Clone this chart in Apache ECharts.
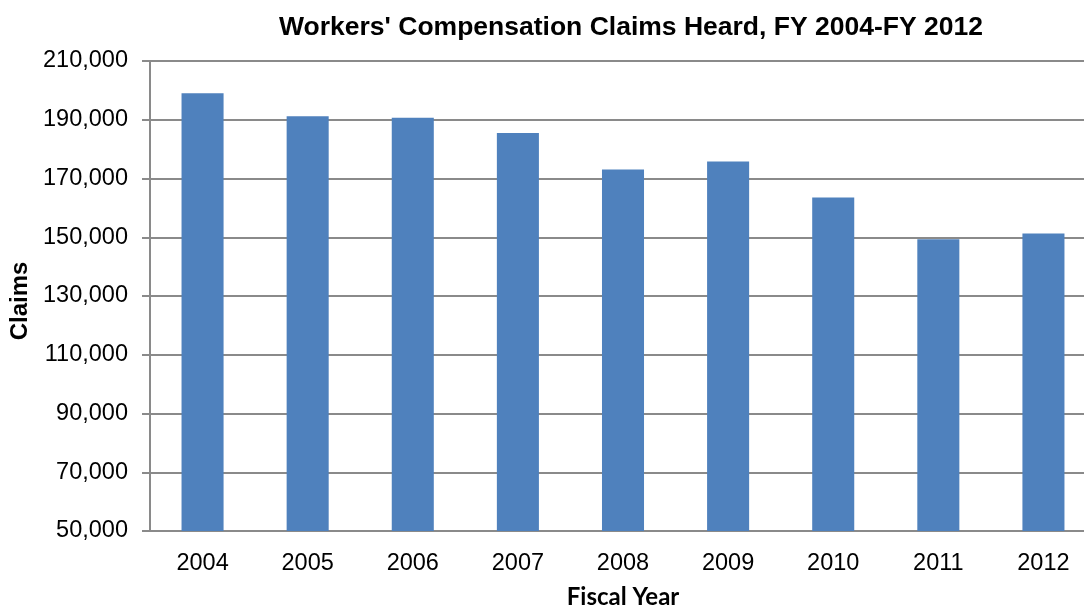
<!DOCTYPE html>
<html>
<head>
<meta charset="utf-8">
<script src="https://cdn.jsdelivr.net/npm/echarts@6/dist/echarts.min.js"></script>
<style>
html,body{margin:0;padding:0;background:#fff;}
#c{width:1084px;height:609px;}
</style>
</head>
<body>
<div id="c"></div>
<script>
var years = ['2004','2005','2006','2007','2008','2009','2010','2011','2012'];
var claims = [199000, 191200, 190700, 185500, 173100, 175800, 163500, 149300, 151300];
var yMin = 50000, yMax = 210000, yStep = 20000;

var chart = echarts.init(document.getElementById('c'), null, {renderer: 'canvas'});
chart.setOption({
  animation: false,
  backgroundColor: '#ffffff',
  title: {
    text: "Workers' Compensation Claims Heard, FY 2004-FY 2012",
    left: 626,
    textAlign: 'center',
    top: 9,
    textStyle: {fontFamily: 'Liberation Sans, Arial, sans-serif', fontWeight: 'bold', fontSize: 26.5, color: '#000'}
  },
  grid: {left: 150, top: 61, width: 946, height: 470, containLabel: false, outerBoundsMode: 'none'},
  xAxis: {
    type: 'category',
    data: years,
    name: 'Fiscal Year',
    nameLocation: 'middle',
    nameGap: 54,
    nameTextStyle: {fontFamily: 'Lato, sans-serif', fontWeight: 'bold', fontSize: 24, color: '#000'},
    axisLine: {show: true, lineStyle: {color: '#8a8a8a', width: 2}},
    axisTick: {show: false},
    axisLabel: {margin: 21, fontFamily: 'Liberation Sans, Arial, sans-serif', fontSize: 23.5, color: '#000'}
  },
  yAxis: {
    type: 'value',
    min: yMin,
    max: yMax,
    interval: yStep,
    name: 'Claims',
    nameLocation: 'middle',
    nameGap: 112,
    nameRotate: 90,
    nameTextStyle: {fontFamily: 'Liberation Sans, Arial, sans-serif', fontWeight: 'bold', fontSize: 24, color: '#000', padding: [0, 0, 0, -10]},
    axisLine: {show: true, lineStyle: {color: '#8a8a8a', width: 2}},
    axisTick: {show: true, length: 8, inside: false, lineStyle: {color: '#8a8a8a', width: 2}},
    splitLine: {show: true, lineStyle: {color: '#8a8a8a', width: 2}},
    axisLabel: {
      margin: 22,
      fontFamily: 'Liberation Sans, Arial, sans-serif',
      fontSize: 23.5,
      color: '#000',
      formatter: function (v) { return v.toLocaleString('en-US'); }
    }
  },
  series: [{
    type: 'bar',
    data: claims,
    barWidth: '40%',
    itemStyle: {color: '#4F81BD'}
  }]
});
</script>
</body>
</html>
